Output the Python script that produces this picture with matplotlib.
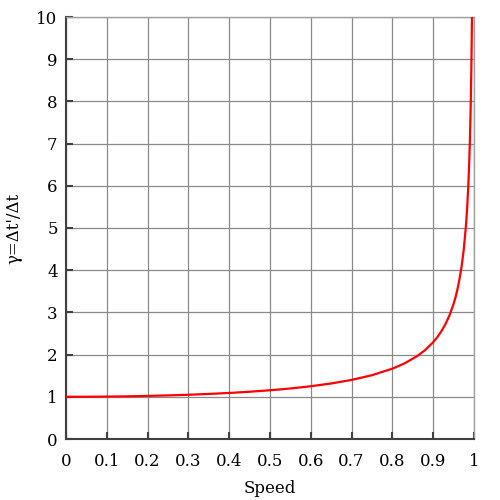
import matplotlib
matplotlib.use('Agg')
import matplotlib.pyplot as plt

# speed (fraction of c) and gamma values
speed = [0.0, 0.05, 0.1, 0.15, 0.2, 0.25, 0.3, 0.35, 0.4, 0.45, 0.5, 0.55,
         0.6, 0.65, 0.7, 0.75, 0.8, 0.83, 0.86, 0.88, 0.9, 0.91, 0.92, 0.93,
         0.94, 0.95, 0.955, 0.96, 0.965, 0.97, 0.975, 0.98, 0.983, 0.986,
         0.988, 0.99, 0.992, 0.993, 0.994, 0.995]
gamma = [1.0, 1.001, 1.005, 1.011, 1.021, 1.033, 1.048, 1.068, 1.091, 1.120,
         1.155, 1.197, 1.250, 1.316, 1.400, 1.512, 1.667, 1.793, 1.960, 2.105,
         2.294, 2.412, 2.552, 2.721, 2.931, 3.203, 3.370, 3.571, 3.818, 4.113,
         4.502, 5.025, 5.439, 5.988, 6.470, 7.089, 7.922, 8.476, 9.142, 10.01]

xticks = [0, 0.1, 0.2, 0.3, 0.4, 0.5, 0.6, 0.7, 0.8, 0.9, 1]
xticklabels = ['0', '0.1', '0.2', '0.3', '0.4', '0.5', '0.6', '0.7', '0.8', '0.9', '1']
yticks = list(range(0, 11))

plt.rcParams['font.family'] = 'DejaVu Serif'

fig = plt.figure(figsize=(5, 5), dpi=100)
ax = fig.add_axes([0.132, 0.122, 0.816, 0.844])

ax.plot(speed, gamma, color='#ff0000', lw=1.6, zorder=3, clip_on=True)

ax.set_xlim(0, 1)
ax.set_ylim(0, 10)
ax.set_xticks(xticks)
ax.set_xticklabels(xticklabels)
ax.set_yticks(yticks)
ax.grid(True, color='#8a8a8a', lw=0.9)
ax.set_axisbelow(True)

for s in ['top', 'right']:
    ax.spines[s].set_color('#a0a0a0')
    ax.spines[s].set_linewidth(1.0)
for s in ['left', 'bottom']:
    ax.spines[s].set_color('#404040')
    ax.spines[s].set_linewidth(1.5)

ax.tick_params(direction='in', length=5, width=1.5, color='#404040',
               labelsize=12, top=False, right=False)
ax.tick_params(axis='x', pad=10)
ax.tick_params(axis='y', pad=6)

ax.set_xlabel('Speed', fontsize=12, labelpad=7)
ax.set_ylabel("γ=Δt'/Δt", fontsize=12, labelpad=10)

fig.savefig('out.png', dpi=100)
